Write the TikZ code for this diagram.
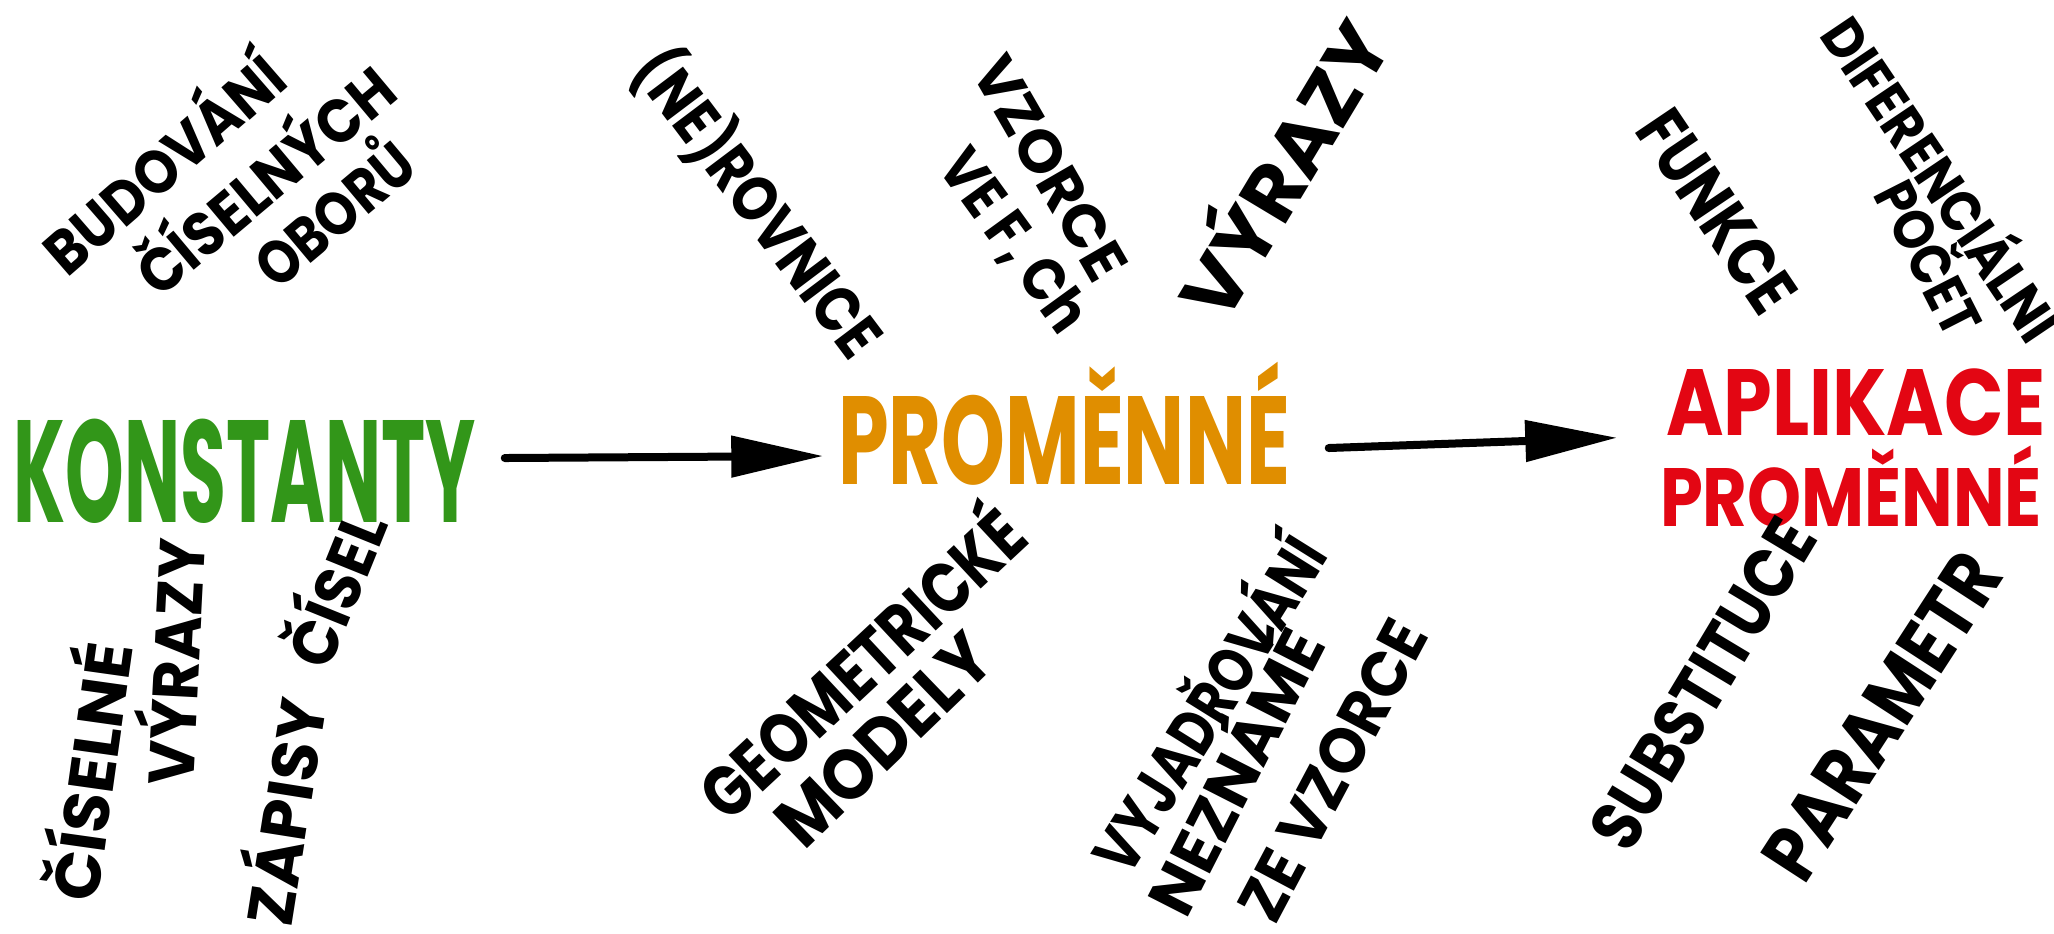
\documentclass[tikz,border=0pt]{standalone}
\usepackage{fontspec}
\setmainfont{Poppins}
\usepackage{graphicx}
\usetikzlibrary{arrows.meta,calc}
\definecolor{kgreen}{RGB}{50,150,25}
\definecolor{korange}{RGB}{224,142,0}
\definecolor{kred}{RGB}{227,6,19}
\newlength\px \setlength\px{0.1mm}
\newcommand\hw[3]{\resizebox{#1\px}{#2\px}{\vphantom{A}\smash{#3}}}
\tikzset{
  lbl/.style={inner sep=0pt, font=\bfseries},
  arr/.style={line width=0.8mm, line cap=round, -{Triangle[length=9.2mm,width=4mm]}},
}
\begin{document}
\begin{tikzpicture}[x=0.1mm,y=-0.1mm]
\fill[white] (0,0) rectangle (2054,933);
\useasboundingbox (0,0) rectangle (2054,933);
% main labels
\node[lbl, text=kgreen] (k) at (245,471) {\hw{462}{102}{KONSTANTY}};
\node[lbl, text=korange] (p) at (1064,440) {\hw{452}{88}{PROMĚNNÉ}};
\node[lbl, text=kred] (a1) at (1856,402) {\hw{380}{66}{APLIKACE}};
\node[lbl, text=kred] (a2) at (1851,497) {\hw{382}{58}{PROMĚNNÉ}};
% arrows
\draw[arr] ($(k.east)+(28,-13)$) -- ($(p.west)+(-14,16)$);
\draw[arr] ($(p.east)+(38,8)$) -- ($(a1.south west)+(-48,2)$);
% top left
\node[lbl, rotate=41] (b1) at (165,165) {\hw{295}{43}{BUDOVÁNÍ}};
\node[lbl, rotate=40] (b2) at (266,182) {\hw{315}{43}{ČÍSELNÝCH}};
\node[lbl, rotate=40] (b3) at (335,215) {\hw{187}{43}{OBORŮ}};
% top middle
\node[lbl, rotate=-53] (r) at (758,203) {\hw{365}{45}{(NE)ROVNICE}};
\node[lbl, rotate=-60] (v1) at (1050,168) {\hw{247}{42}{VZORCE}};
\node[lbl, rotate=-54] (v2) at (1015,240) {\hw{210}{42}{VE F, Ch}};
\node[lbl, rotate=59] (vy) at (1286,171) {\hw{330}{55}{VÝRAZY}};
% top right
\node[lbl, rotate=-56] (f) at (1717,211) {\hw{227}{48}{FUNKCE}};
\node[lbl, rotate=-56] (d1) at (1940,180) {\hw{375}{40}{DIFERENCIÁLNÍ}};
\node[lbl, rotate=-63] (d2) at (1928,258) {\hw{164}{40}{POČET}};
% bottom left
\node[lbl, rotate=82] (c1) at (93,772) {\hw{260}{45}{ČÍSELNÉ}};
\node[lbl, rotate=87] (c2) at (177,662) {\hw{246}{45}{VÝRAZY}};
\node[lbl, rotate=81] (z1) at (287,812) {\hw{228}{45}{ZÁPISY}};
\node[lbl, rotate=68] (z2) at (338,590) {\hw{160}{45}{ČÍSEL}};
% bottom middle
\node[lbl, rotate=43] (g1) at (863,665) {\hw{415}{50}{GEOMETRICKÉ}};
\node[lbl, rotate=44] (g2) at (884,740) {\hw{270}{50}{MODELY}};
\node[lbl, rotate=58] (n1) at (1210,705) {\hw{380}{45}{VYJADŘOVÁNÍ}};
\node[lbl, rotate=63] (n2) at (1237,772) {\hw{310}{45}{NEZNÁMÉ}};
\node[lbl, rotate=62] (n3) at (1333,770) {\hw{330}{45}{ZE VZORCE}};
% bottom right
\node[lbl, rotate=59] (s) at (1703,684) {\hw{370}{50}{SUBSTITUCE}};
\node[lbl, rotate=57] (pa) at (1882,716) {\hw{370}{55}{PARAMETR}};
\end{tikzpicture}
\end{document}
